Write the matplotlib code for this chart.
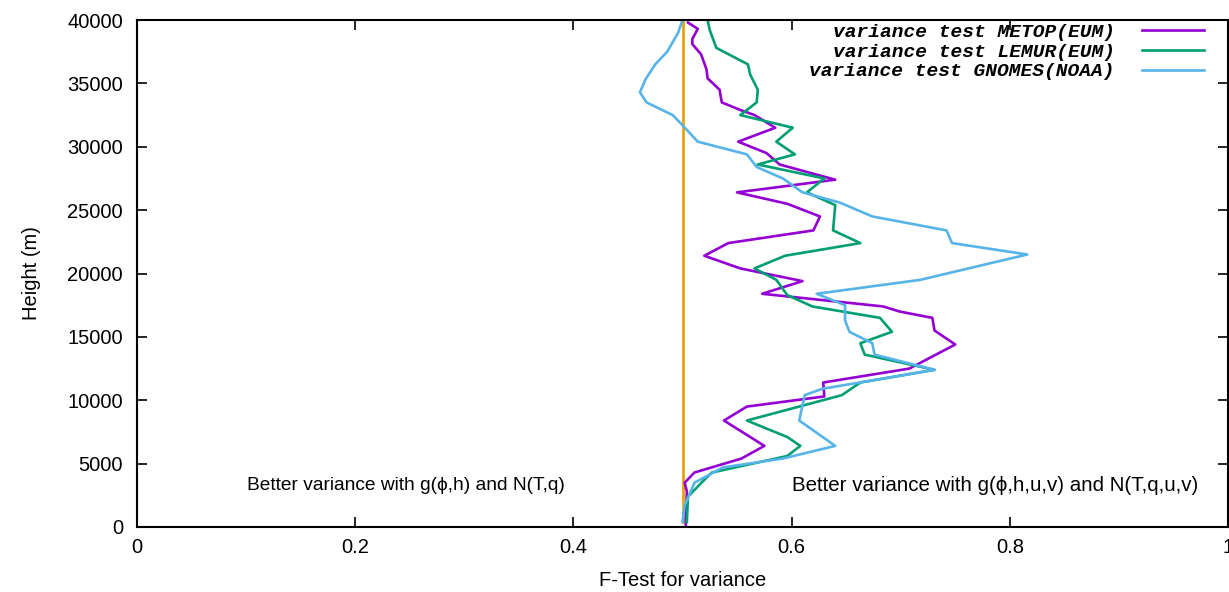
import matplotlib
matplotlib.use('Agg')
import matplotlib.pyplot as plt
from matplotlib.font_manager import FontProperties

plt.rcParams['font.family'] = ['Liberation Sans', 'DejaVu Sans']

# METOP (EUM)
metop_x = [0.505, 0.514, 0.509, 0.509, 0.517, 0.522, 0.523, 0.534, 0.536, 0.553,
           0.566, 0.585, 0.551, 0.577, 0.589, 0.640, 0.550, 0.596, 0.626, 0.620,
           0.542, 0.520, 0.553, 0.610, 0.573, 0.684, 0.699, 0.729, 0.731, 0.750,
           0.708, 0.629, 0.630, 0.559, 0.538, 0.575, 0.554, 0.511, 0.502, 0.504,
           0.503, 0.503]
metop_h = [39800, 39300, 38500, 38100, 37300, 36100, 35400, 34500, 33500, 32900,
           32500, 31500, 30400, 29500, 28600, 27400, 26400, 25500, 24500, 23400,
           22400, 21400, 20400, 19400, 18400, 17400, 17000, 16500, 15500, 14400,
           12500, 11400, 10300, 9500, 8400, 6400, 5400, 4300, 3500, 2800,
           550, 150]

# LEMUR (EUM)
lemur_x = [0.523, 0.525, 0.531, 0.560, 0.562, 0.569, 0.568, 0.553, 0.601, 0.586,
           0.603, 0.569, 0.630, 0.614, 0.640, 0.638, 0.663, 0.594, 0.566, 0.586,
           0.596, 0.619, 0.681, 0.692, 0.663, 0.667, 0.731, 0.663, 0.646, 0.559,
           0.596, 0.608, 0.596, 0.527, 0.522, 0.505, 0.504]
lemur_h = [40000, 39200, 37800, 36500, 35700, 34500, 33500, 32500, 31500, 30400,
           29400, 28600, 27500, 26400, 25400, 23400, 22400, 21400, 20400, 19500,
           18300, 17400, 16500, 15400, 14500, 13600, 12400, 11400, 10400, 8400,
           7100, 6400, 5600, 4300, 3900, 2400, 400]

# GNOMES (NOAA)
gnomes_x = [0.500, 0.496, 0.486, 0.475, 0.466, 0.461, 0.467, 0.491, 0.500, 0.514,
            0.559, 0.568, 0.592, 0.610, 0.644, 0.674, 0.742, 0.747, 0.816, 0.718,
            0.623, 0.649, 0.649, 0.653, 0.674, 0.676, 0.731, 0.628, 0.612, 0.607,
            0.640, 0.592, 0.537, 0.511, 0.502, 0.500]
gnomes_h = [40000, 39000, 37500, 36500, 35300, 34300, 33500, 32500, 31700, 30400,
            29400, 28400, 27500, 26400, 25600, 24500, 23400, 22400, 21500, 19500,
            18400, 17500, 16300, 15400, 14500, 13600, 12400, 10900, 10400, 8400,
            6400, 5400, 4700, 3500, 1700, 400]

ref_x = [0.5, 0.5]
ref_h = [400, 40000]

labels = ['variance test METOP(EUM)', 'variance test LEMUR(EUM)',
          'variance test GNOMES(NOAA)']
colors = ['#9400D3', '#009E73', '#56B4E9']

fig = plt.figure(figsize=(12.29, 5.92), dpi=100)
ax = fig.add_axes([137 / 1229, 65 / 592, 1091 / 1229, 507 / 592])

ax.plot(ref_x, ref_h, color='#E69F00', lw=1.9)
ax.plot(metop_x, metop_h, color=colors[0], lw=1.9, label=labels[0])
ax.plot(lemur_x, lemur_h, color=colors[1], lw=1.9, label=labels[1])
ax.plot(gnomes_x, gnomes_h, color=colors[2], lw=1.9, label=labels[2])

ax.set_xlim(0, 1)
ax.set_ylim(0, 40000)
ax.set_xticks([0, 0.2, 0.4, 0.6, 0.8, 1.0])
ax.set_xticklabels(['0', '0.2', '0.4', '0.6', '0.8', '1'])
ax.set_yticks(range(0, 40001, 5000))
ax.tick_params(direction='in', length=7, width=1.2, top=True, right=True,
               labelsize=14.5)
ax.tick_params(axis='y', pad=10)
ax.tick_params(axis='x', pad=8)
for s in ax.spines.values():
    s.set_linewidth(1.5)

ax.set_xlabel('F-Test for variance', fontsize=14.5, labelpad=10)
ax.set_ylabel('Height (m)', fontsize=14.5, labelpad=19)

ax.text(0.101, 3300, 'Better variance with g(ϕ,h) and N(T,q)', fontsize=13.8,
        va='center', ha='left')
ax.text(0.600, 3300, 'Better variance with g(ϕ,h,u,v) and N(T,q,u,v)', fontsize=14.8,
        va='center', ha='left')

leg_font = FontProperties(family='Liberation Mono', weight='bold', style='italic', size=14)
ax.legend(loc='upper right', bbox_to_anchor=(0.9908, 1.0197), frameon=False,
          markerfirst=False, prop=leg_font, handlelength=3.2, labelspacing=0.1,
          borderaxespad=0.3, handletextpad=1.4)

fig.savefig('out.png', dpi=100)
